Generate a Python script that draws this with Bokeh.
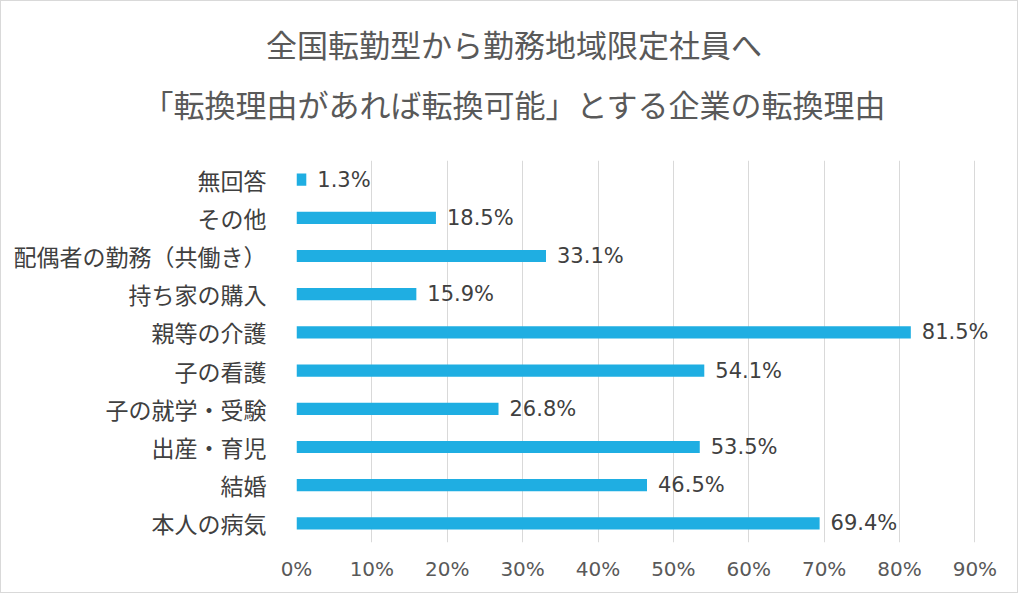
from bokeh.plotting import figure
from bokeh.models import FactorRange, Range1d, FixedTicker, ColumnDataSource, Div
from bokeh.layouts import column
from bokeh.core.properties import value
from bokeh.embed import file_html
from bokeh.resources import INLINE

title_lines = ["全国転勤型から勤務地域限定社員へ",
               "「転換理由があれば転換可能」とする企業の転換理由"]
# bottom to top
categories = ["本人の病気", "結婚", "出産・育児", "子の就学・受験", "子の看護",
              "親等の介護", "持ち家の購入", "配偶者の勤務（共働き）", "その他", "無回答"]
values = [69.4, 46.5, 53.5, 26.8, 54.1, 81.5, 15.9, 33.1, 18.5, 1.3]
ticks = [0, 10, 20, 30, 40, 50, 60, 70, 80, 90]
tick_labels = ["0%", "10%", "20%", "30%", "40%", "50%", "60%", "70%", "80%", "90%"]

JP = "'Noto Sans CJK JP', 'Noto Sans'"
NUM = "'DejaVu Sans', 'Noto Sans CJK JP'"

src = ColumnDataSource(dict(cat=categories, val=values,
                            lab=[f"{v}%" for v in values]))

line_style = ("position:absolute; left:5px; width:1006px; text-align:center; "
              "font-family:'Noto Sans CJK JP','Noto Sans',sans-serif; font-size:31px; "
              "line-height:36px; color:#595959; white-space:nowrap;")
title_html = "".join(
    f'<div style="{line_style} top:{top}px;">{t}</div>'
    for t, top in zip(title_lines, [20, 80]))
title_div = Div(text=title_html, width=1006, height=130,
                styles={"position": "relative", "background": "white"})

# x range runs a little past 90% so that the value labels are not clipped
p = figure(width=1006, height=451, output_backend="svg", toolbar_location=None,
           y_range=FactorRange(*categories), x_range=Range1d(0, 93),
           min_border_left=295, min_border_right=10, min_border_top=19,
           min_border_bottom=50)
p.outline_line_color = None
p.background_fill_color = "white"
p.border_fill_color = "white"

p.hbar(y="cat", right="val", height=0.32, left=0, source=src,
       fill_color="#1FAEE2", line_color=None)
p.text(x="val", y="cat", text="lab", source=src, x_offset=11,
       text_baseline="middle", text_align="left",
       text_font=value(NUM), text_font_size="21px", text_color="#404040")

p.xgrid.grid_line_color = "#d9d9d9"
p.ygrid.grid_line_color = None

p.xaxis.ticker = FixedTicker(ticks=ticks)
p.xaxis.major_label_overrides = {t: l for t, l in zip(ticks, tick_labels)}
p.xaxis.axis_line_color = None
p.xaxis.major_tick_line_color = None
p.xaxis.minor_tick_line_color = None
p.xaxis.major_label_standoff = 8
p.xaxis.major_label_text_font = NUM
p.xaxis.major_label_text_font_size = "20px"
p.xaxis.major_label_text_color = "#595959"

p.yaxis.axis_line_color = None
p.yaxis.major_tick_line_color = None
p.yaxis.minor_tick_line_color = None
p.yaxis.major_label_standoff = 24
p.yaxis.major_label_text_font = JP
p.yaxis.major_label_text_font_size = "23px"
p.yaxis.major_label_text_color = "#404040"

layout = column(title_div, p, spacing=0,
                styles={"border": "1px solid #d9d9d9", "background": "white"})

open("out.html", "w").write(file_html(layout, INLINE))
